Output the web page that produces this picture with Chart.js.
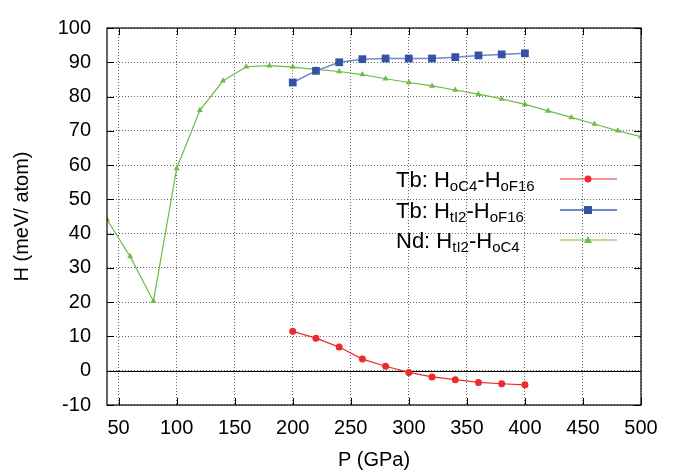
<!DOCTYPE html>
<html>
<head>
<meta charset="utf-8">
<script src="https://cdn.jsdelivr.net/npm/chart.js@4/dist/chart.umd.min.js"></script>
<style>
  html, body { margin: 0; padding: 0; background: #fff; }
  #wrap { width: 683px; height: 473px; }
</style>
</head>
<body>
<div id="wrap"><canvas id="hChart"></canvas></div>
<script>
// datos
const presionTb = [200, 220, 240, 260, 280, 300, 320, 340, 360, 380, 400];
const tbOC4 = [11.5, 9.5, 6.9, 3.4, 1.3, -0.5, -1.8, -2.6, -3.4, -3.8, -4.1];
const tbTI2 = [84.1, 87.5, 90.0, 90.9, 91.1, 91.1, 91.1, 91.5, 92.0, 92.3, 92.6];

const presionNd = [40, 60, 80, 100, 120, 140, 160, 180, 200, 220, 240, 260, 280,
                   300, 320, 340, 360, 380, 400, 420, 440, 460, 480, 500];
const ndTI2 = [44.1, 33.3, 20.3, 59.0, 76.0, 84.6, 88.7, 89.0, 88.6, 87.9, 87.3, 86.4, 85.2,
               84.1, 83.1, 81.9, 80.7, 79.3, 77.7, 75.8, 73.9, 72.0, 70.0, 68.3];

const xTicks = [50, 100, 150, 200, 250, 300, 350, 400, 450, 500];
const yTicks = [-10, 0, 10, 20, 30, 40, 50, 60, 70, 80, 90, 100];

const rojo = '#ee2a2a', azul = '#3553a6', azulLinea = '#7088c4', verde = '#6cbd48';
const fuente = '"Liberation Sans", Arial, Helvetica, sans-serif';

const pares = (xs, ys) => xs.map((x, i) => ({x: x, y: ys[i]}));

// leyenda con subíndices, a mano
const leyenda = [
  {pre: 'Tb: H', s1: 'oC4', mid: '-H', s2: 'oF16', color: rojo, linea: rojo, marca: 'circle'},
  {pre: 'Tb: H', s1: 'tI2', mid: '-H', s2: 'oF16', color: azul, linea: azulLinea, marca: 'rect'},
  {pre: 'Nd: H', s1: 'tI2', mid: '-H', s2: 'oC4', color: verde, linea: verde, marca: 'triangle'}
];

const marcoPlugin = {
  id: 'marco',
  beforeDatasetsDraw(chart) {
    const {ctx, chartArea: a, scales: {x, y}} = chart;
    ctx.save();
    // linea del cero
    ctx.strokeStyle = '#000';
    ctx.lineWidth = 1;
    const y0 = Math.round(y.getPixelForValue(0)) + 0.5;
    ctx.beginPath();
    ctx.moveTo(a.left, y0);
    ctx.lineTo(a.right, y0);
    ctx.stroke();
    ctx.restore();
  },
  afterDraw(chart) {
    const {ctx, chartArea: a, scales: {x, y}} = chart;
    ctx.save();
    ctx.strokeStyle = '#000';
    ctx.lineWidth = 1.2;
    ctx.strokeRect(a.left, a.top, a.right - a.left, a.bottom - a.top);
    // ticks hacia dentro, también arriba y a la derecha
    const largo = 7;
    ctx.lineWidth = 1;
    ctx.beginPath();
    xTicks.forEach(v => {
      const px = Math.round(x.getPixelForValue(v)) + 0.5;
      ctx.moveTo(px, a.bottom); ctx.lineTo(px, a.bottom - largo);
      ctx.moveTo(px, a.top); ctx.lineTo(px, a.top + largo);
    });
    yTicks.forEach(v => {
      const py = Math.round(y.getPixelForValue(v)) + 0.5;
      ctx.moveTo(a.left, py); ctx.lineTo(a.left + largo, py);
      ctx.moveTo(a.right, py); ctx.lineTo(a.right - largo, py);
    });
    ctx.stroke();

    // leyenda
    const x0 = 396, filas = [187, 218, 248];
    leyenda.forEach((l, i) => {
      const b = filas[i];
      let cx = x0;
      ctx.fillStyle = '#000';
      ctx.textBaseline = 'alphabetic';
      ctx.textAlign = 'left';
      ctx.font = '22px ' + fuente;
      ctx.fillText(l.pre, cx, b); cx += ctx.measureText(l.pre).width;
      ctx.font = '15px ' + fuente;
      ctx.fillText(l.s1, cx, b + 4); cx += ctx.measureText(l.s1).width;
      ctx.font = '22px ' + fuente;
      ctx.fillText(l.mid, cx, b); cx += ctx.measureText(l.mid).width;
      ctx.font = '15px ' + fuente;
      ctx.fillText(l.s2, cx, b + 4);

      const ly = b - 8;
      ctx.strokeStyle = l.linea;
      ctx.lineWidth = i === 1 ? 2 : 1.2;
      ctx.beginPath();
      ctx.moveTo(560, ly); ctx.lineTo(617, ly);
      ctx.stroke();
      ctx.fillStyle = l.color;
      ctx.beginPath();
      if (l.marca === 'circle') ctx.arc(588, ly, 3.5, 0, Math.PI * 2);
      else if (l.marca === 'rect') ctx.rect(584, ly - 4, 8, 8);
      else { ctx.moveTo(588, ly - 4); ctx.lineTo(592, ly + 3); ctx.lineTo(584, ly + 3); ctx.closePath(); }
      ctx.fill();
    });
    ctx.restore();
  }
};

new Chart(document.getElementById('hChart'), {
  type: 'line',
  data: {
    datasets: [
      {
        label: 'Tb: HoC4-HoF16',
        data: pares(presionTb, tbOC4),
        borderColor: rojo, backgroundColor: rojo,
        borderWidth: 1.2, pointStyle: 'circle', pointRadius: 3.5, pointBorderWidth: 0
      },
      {
        label: 'Tb: HtI2-HoF16',
        data: pares(presionTb, tbTI2),
        borderColor: azulLinea, backgroundColor: azul,
        borderWidth: 1.5, pointStyle: 'rect', pointRadius: 5.5, pointBorderWidth: 0
      },
      {
        label: 'Nd: HtI2-HoC4',
        data: pares(presionNd, ndTI2),
        borderColor: verde, backgroundColor: verde,
        borderWidth: 1.2, pointStyle: 'triangle', pointRadius: 3.5, pointBorderWidth: 0
      }
    ]
  },
  options: {
    responsive: true,
    maintainAspectRatio: false,
    animation: false,
    layout: { padding: { top: 15, right: 42, bottom: 0, left: 0 } },
    plugins: { legend: { display: false }, tooltip: { enabled: false } },
    scales: {
      x: {
        type: 'linear',
        min: 40, max: 500,
        afterFit: s => { s.height = 68; },
        ticks: { stepSize: 50, includeBounds: false, color: '#000', padding: 11,
                 font: { family: fuente, size: 20 } },
        grid: { color: '#666', lineWidth: 1, drawTicks: false },
        border: { display: false, dash: [1, 2] },
        title: { display: true, text: 'P (GPa)', color: '#000', padding: { bottom: 1 },
                 font: { family: fuente, size: 20 } }
      },
      y: {
        min: -10, max: 100,
        afterFit: s => { s.width = 107; },
        ticks: { stepSize: 10, color: '#000', padding: 16,
                 font: { family: fuente, size: 20 } },
        grid: { color: '#666', lineWidth: 1, drawTicks: false },
        border: { display: false, dash: [1, 2] },
        title: { display: true, text: 'H (meV/ atom)', color: '#000', padding: { top: 10 },
                 font: { family: fuente, size: 20 } }
      }
    }
  },
  plugins: [marcoPlugin]
});
</script>
</body>
</html>
